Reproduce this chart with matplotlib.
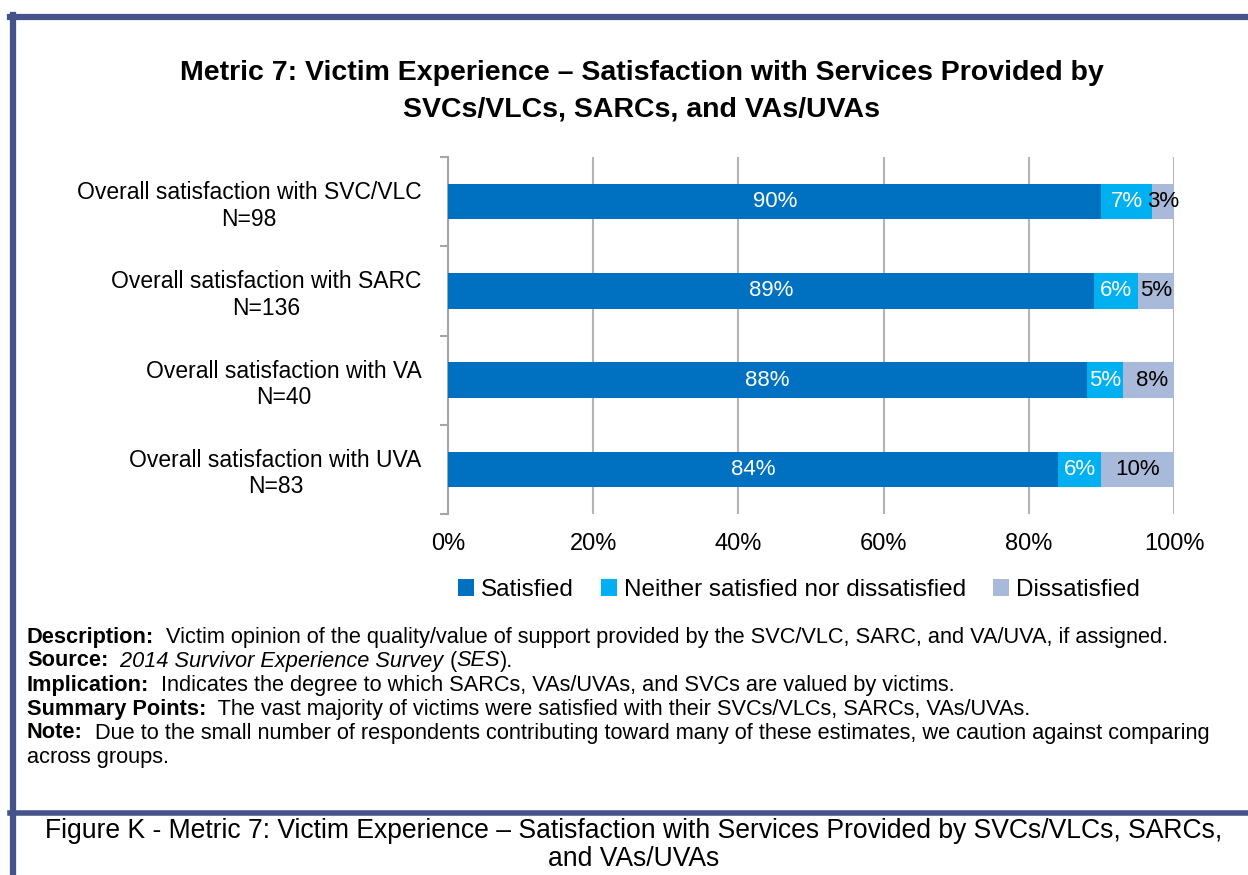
import matplotlib.pyplot as plt
from matplotlib.lines import Line2D

plt.rcParams['font.family'] = ['Liberation Sans', 'DejaVu Sans']

categories = ['Overall satisfaction with SVC/VLC\nN=98',
              'Overall satisfaction with SARC\nN=136',
              'Overall satisfaction with VA\nN=40',
              'Overall satisfaction with UVA\nN=83']
satisfied = [90, 89, 88, 84]
neither = [7, 6, 5, 6]
dissatisfied = [3, 5, 8, 10]
series_names = ['Satisfied', 'Neither satisfied nor dissatisfied', 'Dissatisfied']
colors = ['#0070C0', '#00B0F0', '#A9B9D9']
text_colors = ['white', 'white', 'black']
xticks = [0, 20, 40, 60, 80, 100]

fig = plt.figure(figsize=(12.48, 8.75), dpi=100)
W, H = 1248, 875

def fx(px):
    return px / W

def fy(py):
    return 1 - py / H

ax = fig.add_axes([fx(448), fy(514), fx(1174) - fx(448), fy(157) - fy(514)])

y = list(range(len(categories)))
left = [0] * len(y)
for vals, name, c, tc in zip([satisfied, neither, dissatisfied], series_names, colors, text_colors):
    bars = ax.barh(y, vals, left=left, height=0.4, color=c, label=name, zorder=3)
    for b, v in zip(bars, vals):
        ax.text(b.get_x() + b.get_width() / 2, b.get_y() + b.get_height() / 2, f'{v}%',
                ha='center', va='center', color=tc, fontsize=16, zorder=4)
    left = [l + v for l, v in zip(left, vals)]

ax.set_xlim(0, 100)
ax.set_ylim(len(y) - 0.5, -0.5)
ax.set_xticks(xticks)
ax.set_xticklabels([f'{t}%' for t in xticks], fontsize=17)
ax.tick_params(axis='x', length=0, pad=14)
ax.set_yticks(y)
ax.set_yticklabels(categories, fontsize=16.5, multialignment='center')
ax.tick_params(axis='y', which='major', length=0, pad=19)
ax.set_yticks([i - 0.5 for i in range(len(y) + 1)], minor=True)
ax.tick_params(axis='y', which='minor', length=6, width=1.5, color='#A6A6A6')
ax.grid(axis='x', color='#B4B4B4', lw=1.5, zorder=0)
for s in ['top', 'right', 'bottom']:
    ax.spines[s].set_visible(False)
ax.spines['left'].set_color('#A6A6A6')
ax.spines['left'].set_linewidth(1.5)

fig.text(fx(642), fy(91), 'Metric 7: Victim Experience \u2013 Satisfaction with Services Provided by\nSVCs/VLCs, SARCs, and VAs/UVAs',
         ha='center', va='center', fontsize=20.5, fontweight='bold', linespacing=1.55)

fig.legend(loc='center', bbox_to_anchor=(fx(799), fy(590)), ncol=3, frameon=False, fontsize=17.5,
           handlelength=0.65, handleheight=0.65, handletextpad=0.3, columnspacing=1.1)

# frame lines
border = '#44548A'
fig.add_artist(Line2D([fx(10), 1], [fy(17), fy(17)], color=border, lw=4.5))
fig.add_artist(Line2D([fx(13), fx(13)], [0, fy(15)], color=border, lw=4.5))
fig.add_artist(Line2D([fx(10), 1], [fy(813), fy(813)], color=border, lw=4))

# description block with bold headings
fs = 15.7
notes = [
    ('Description:', '  Victim opinion of the quality/value of support provided by the SVC/VLC, SARC, and VA/UVA, if assigned.', 'normal'),
    ('Source:', '  2014 Survivor Experience Survey', 'italic'),
    ('Implication:', '  Indicates the degree to which SARCs, VAs/UVAs, and SVCs are valued by victims.', 'normal'),
    ('Summary Points:', '  The vast majority of victims were satisfied with their SVCs/VLCs, SARCs, VAs/UVAs.', 'normal'),
    ('Note:', '  Due to the small number of respondents contributing toward many of these estimates, we caution against comparing', 'normal'),
]
renderer = fig.canvas.get_renderer()
ty = 637
for head, body, style in notes:
    t1 = fig.text(fx(27), fy(ty), head, fontsize=fs, fontweight='bold', va='center')
    bb = t1.get_window_extent(renderer)
    t2 = fig.text(bb.x1 / W, fy(ty), body, fontsize=fs, va='center', style=style)
    if head == 'Source:':
        bb2 = t2.get_window_extent(renderer)
        t3 = fig.text(bb2.x1 / W, fy(ty), ' (', fontsize=fs, va='center')
        bb3 = t3.get_window_extent(renderer)
        t4 = fig.text(bb3.x1 / W, fy(ty), 'SES', fontsize=fs, va='center', style='italic')
        bb4 = t4.get_window_extent(renderer)
        fig.text(bb4.x1 / W, fy(ty), ').', fontsize=fs, va='center')
    ty += 24
fig.text(fx(27), fy(ty), 'across groups.', fontsize=fs, va='center')

fig.text(fx(634), fy(845), 'Figure K - Metric 7: Victim Experience \u2013 Satisfaction with Services Provided by SVCs/VLCs, SARCs,\nand VAs/UVAs',
         ha='center', va='center', fontsize=19.1, linespacing=1.05)

fig.savefig('out.png', dpi=100)
